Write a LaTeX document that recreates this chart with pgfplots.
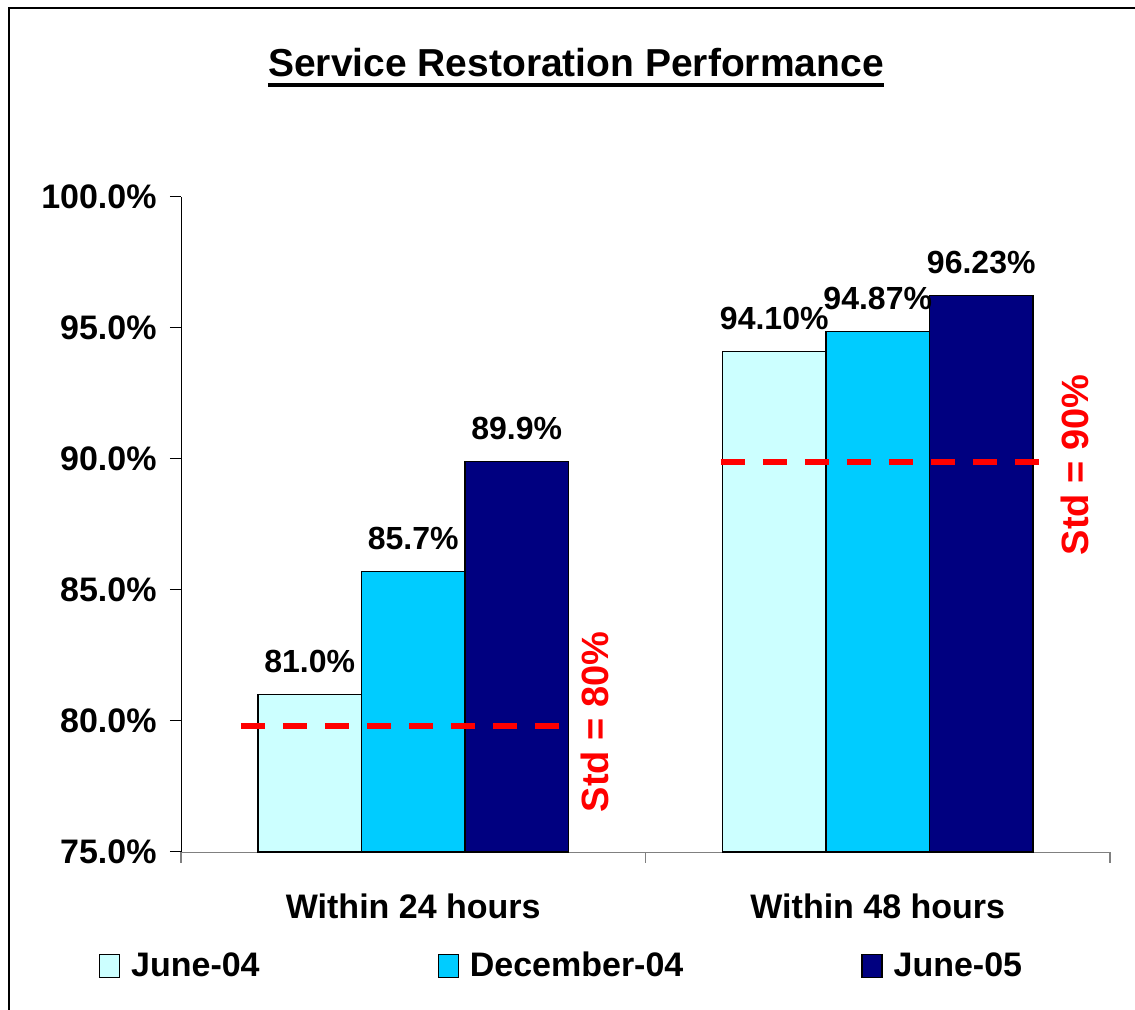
\documentclass[border=0pt]{standalone}
\usepackage{pgfplots}
\pgfplotsset{compat=1.18}
\usepackage{fontspec}
\setmainfont{Liberation Sans}
\definecolor{cJuneA}{HTML}{CCFFFF}
\definecolor{cDec}{HTML}{00CCFF}
\definecolor{cJuneB}{HTML}{000080}
\definecolor{stdred}{HTML}{FF0000}
\begin{document}
\begin{tikzpicture}
\useasboundingbox (-90.5pt,-79pt) rectangle (477pt,426pt);
\draw[line width=1.2pt] (-86pt,-79pt) -- (-86pt,422pt) -- (477pt,422pt);
\begin{axis}[
  scale only axis,
  width=464.5pt, height=327.5pt,
  xmin=-0.5, xmax=1.5,
  ymin=75, ymax=100,
  clip=false,
  ybar=0pt,
  bar width=0.2228,
  axis lines*=left,
  x axis line style={draw=black!50, -},
  y axis line style={draw=black, -},
  xtick={0,1},
  xticklabels={Within 24 hours, Within 48 hours},
  minor xtick={-0.5,0.5,1.5},
  major x tick style={draw=none},
  minor x tick style={draw=black!50, line width=0.6pt},
  minor tick length=5.5pt,
  tick align=outside,
  ytick={75,80,85,90,95,100},
  major tick length=5.5pt,
  y tick style={draw=black, line width=0.5pt},
  /pgf/number format/assume math mode=true,
  yticklabel={\pgfmathprintnumber[fixed,fixed zerofill,precision=1]{\tick}\%},
  yticklabel style={font=\bfseries\fontsize{17}{20}\selectfont, anchor=east, inner sep=0pt, xshift=-6.5pt},
  xticklabel style={font=\bfseries\fontsize{17}{20}\selectfont, anchor=base, inner sep=0pt, yshift=-28pt},
  typeset ticklabels with strut=false,
  legend columns=3,
  legend image code/.code={\draw[#1, draw=black, line width=0.6pt] (0pt,-5.75pt) rectangle (10pt,5.75pt);},
  legend style={at={(axis description cs:-0.0883,-0.174)}, anchor=west, draw=none, fill=none,
    inner sep=0pt, outer sep=0pt, column sep=0pt,
    font=\bfseries\fontsize{17}{20}\selectfont,
    nodes={inner sep=0pt, anchor=west},
    /tikz/every odd column/.append style={column sep=5.5pt},
    /tikz/every even column/.append style={column sep=89pt}},
  nodes near coords style={font=\bfseries\fontsize{16}{19}\selectfont, anchor=base, inner sep=0pt, yshift=11pt},
]
\addplot[fill=cJuneA, draw=black, line width=0.6pt, nodes near coords, point meta=explicit symbolic]
  coordinates {(0,81.0) [81.0\%] (1,94.10) [94.10\%]};
\addlegendentry{June-04}
\addplot[fill=cDec, draw=black, line width=0.6pt, nodes near coords, point meta=explicit symbolic]
  coordinates {(0,85.7) [85.7\%] (1,94.87) [94.87\%]};
\addlegendentry{December-04}
\addplot[fill=cJuneB, draw=black, line width=0.6pt, nodes near coords, point meta=explicit symbolic]
  coordinates {(0,89.9) [89.9\%] (1,96.23) [96.23\%]};
\addlegendentry{June-05}
\addplot[sharp plot, forget plot, draw=stdred, line width=3pt, dash pattern=on 12pt off 9pt]
  coordinates {(-0.371,79.82) (0.3138,79.82)};
\addplot[sharp plot, forget plot, draw=stdred, line width=3pt, dash pattern=on 12pt off 9pt]
  coordinates {(0.6625,89.9) (1.3471,89.9)};
\node[rotate=90, text=stdred, font=\bfseries\fontsize{19}{22}\selectfont, inner sep=0pt] at (axis cs:0.391,79.96) {Std = 80\%};
\node[rotate=90, text=stdred, font=\bfseries\fontsize{19}{22}\selectfont, inner sep=0pt] at (axis cs:1.4247,89.77) {Std = 90\%};
\end{axis}
\node[anchor=base, inner sep=0pt, font=\bfseries\fontsize{19.5}{23}\selectfont] (ttl) at (197.5pt,387.5pt) {Service Restoration Performance};
\draw[line width=2.2pt] ([yshift=-4pt]ttl.base west) -- ([yshift=-4pt]ttl.base east);
\end{tikzpicture}
\end{document}
